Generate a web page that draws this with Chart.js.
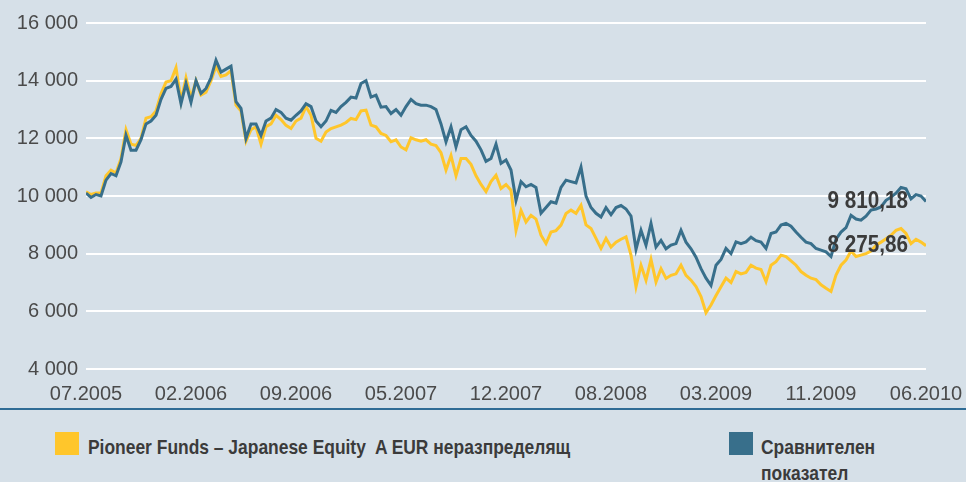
<!DOCTYPE html>
<html>
<head>
<meta charset="utf-8">
<script src="https://cdn.jsdelivr.net/npm/chart.js@4.4.0/dist/chart.umd.min.js"></script>
<style>
    body { margin: 0; background: #d6e0e8; width: 966px; height: 482px; overflow: hidden; position: relative; font-family: "Liberation Sans", Arial, sans-serif; }
    #chartWrap { position: absolute; left: 0; top: 0; width: 966px; height: 408px; }
    .axis-line { position: absolute; left: 0; top: 408px; width: 966px; height: 2px; background: #2f6c95; }
    .legend-box { position: absolute; width: 24px; height: 23px; top: 432px; }
    .legend-text { position: absolute; font-family: "Liberation Sans", Arial, sans-serif; font-weight: bold; font-size: 21px; color: #3b3b3b; line-height: 26px; white-space: nowrap; transform-origin: 0 0; }
</style>
</head>
<body>
<div id="chartWrap"><canvas id="perfChart" width="966" height="408"></canvas></div>
<div class="axis-line"></div>
<div class="legend-box" style="left:55px; background:#ffc62b;"></div>
<div class="legend-text" id="legendFund" style="left:88px; top:434px;"></div>
<div class="legend-box" style="left:729px; background:#386f8b;"></div>
<div class="legend-text" id="legendBench" style="left:761px; top:434px;"></div>

<script>
// Tick labels on the time axis (evenly spaced)
const tickLabels = ['07.2005', '02.2006', '09.2006', '05.2007', '12.2007', '08.2008', '03.2009', '11.2009', '06.2010'];

// Fund values
const fundValues = [
    10150, 10050, 10100, 10100, 10700, 10900, 10800, 11300, 12300, 11800,
    11750, 12000, 12700, 12750, 12950, 13550, 13950, 14000, 14450, 13300,
    14100, 13400, 14000, 13500, 13600, 14000, 14500, 14150, 14200, 14350,
    13150, 12950, 11900, 12300, 12400, 11800, 12400, 12500, 12800, 12650,
    12450, 12340, 12600, 12700, 13100, 12800, 12000, 11900, 12220, 12340,
    12400, 12460, 12550, 12690, 12650, 12950, 12980, 12460, 12400, 12170,
    12100, 11880, 11950, 11700, 11600, 12020, 11950, 11900, 11950, 11800,
    11750, 11500, 10900, 11400, 10700, 11300, 11300, 11100, 10700, 10400,
    10150, 10500, 10720, 10260, 10400, 10200, 8810, 9500, 9100, 9330,
    9200, 8640, 8350, 8750, 8800, 8990, 9390, 9510, 9400, 9680,
    9000, 8870, 8530, 8180, 8530, 8230, 8400, 8500, 8580, 7950,
    6850, 7600, 7080, 7800, 7020, 7480, 7140, 7250, 7300, 7600,
    7250, 7080, 6860, 6510, 5950, 6220, 6550, 6850, 7150, 7000,
    7380, 7300, 7350, 7600, 7500, 7450, 7030, 7600, 7720, 7950,
    7900, 7750, 7600, 7380, 7250, 7150, 7100, 6920, 6800, 6690,
    7260, 7600, 7780, 8090, 7900, 7950, 8000, 8090, 8290, 8400,
    8520, 8640, 8810, 8870, 8700, 8350, 8500, 8400, 8275.86
];

// Benchmark values
const benchmarkValues = [
    10100, 9950, 10050, 10000, 10550, 10780, 10700, 11180, 12110, 11590,
    11590, 11950, 12500, 12600, 12800, 13350, 13730, 13800, 14050, 13200,
    13900, 13250, 14000, 13560, 13730, 14100, 14710, 14300, 14400, 14500,
    13270, 13040, 12000, 12500, 12500, 12100, 12600, 12700, 13000, 12900,
    12700, 12630, 12800, 12950, 13200, 13100, 12600, 12400, 12600, 12970,
    12900, 13100, 13250, 13430, 13400, 13900, 14000, 13430, 13500, 13080,
    13100, 12860, 13000, 12800, 13100, 13350, 13200, 13150, 13150, 13100,
    13000, 12500, 11880, 12400, 11700, 12300, 12400, 12100, 11900, 11600,
    11200, 11300, 11800, 11130, 11250, 10900, 9850, 10500, 10320, 10400,
    10300, 9400, 9600, 9800, 9750, 10300, 10550, 10500, 10450, 11000,
    10000, 9600, 9400, 9270, 9600, 9350, 9600, 9670, 9550, 9300,
    8150, 8810, 8290, 9050, 8230, 8460, 8170, 8300, 8350, 8810,
    8400, 8170, 7880, 7480, 7150, 6900, 7600, 7800, 8180, 8000,
    8410, 8350, 8410, 8570, 8450, 8400, 8180, 8700, 8750, 8990,
    9050, 8950, 8750, 8570, 8400, 8350, 8180, 8120, 8060, 7900,
    8500, 8750, 8900, 9330, 9200, 9160, 9300, 9510, 9550, 9620,
    9850, 9960, 10100, 10300, 10250, 9900, 10050, 10000, 9810.18
];

const seriesNames = ['Pioneer Funds – Japanese Equity\u00a0 A EUR неразпределящ', 'Сравнителен показател'];

const lastIndex = fundValues.length - 1;
const tickStep = lastIndex / (tickLabels.length - 1);

function formatThousands(value) {
    return String(value).replace(/\B(?=(\d{3})+(?!\d))/g, ' ');
}

function formatEnd(value) {
    const parts = value.toFixed(2).split('.');
    return formatThousands(parts[0]) + ',' + parts[1];
}

// Draws the final values next to the end of the lines
const endLabels = {
    id: 'endLabels',
    afterDatasetsDraw(chart) {
        const ctx = chart.ctx;
        const x = chart.scales.x.getPixelForValue(lastIndex) - 18;
        ctx.save();
        ctx.font = 'bold 23px "Liberation Sans", sans-serif';
        ctx.fillStyle = '#3b3b3b';
        ctx.textAlign = 'right';
        ctx.textBaseline = 'middle';
        chart.data.datasets.forEach(ds => {
            const v = ds.data[lastIndex].y;
            const y = chart.scales.y.getPixelForValue(v);
            // squeeze horizontally to mimic the condensed face
            ctx.save();
            ctx.translate(x, y);
            ctx.scale(0.9, 1);
            ctx.fillText(formatEnd(v), 0, 0);
            ctx.restore();
        });
        ctx.restore();
    }
};

// Legend under the chart, condensed to the width in the picture
function buildLegend() {
    const fund = document.getElementById('legendFund');
    const bench = document.getElementById('legendBench');
    fund.textContent = seriesNames[0];
    const words = seriesNames[1].split(' ');
    bench.innerHTML = words.join('<br>');
    const squeeze = 482 / fund.offsetWidth;
    fund.style.transform = 'scaleX(' + squeeze + ')';
    bench.style.transform = 'scaleX(' + squeeze + ')';
}

document.addEventListener('DOMContentLoaded', function() {
    buildLegend();

    const ctx = document.getElementById('perfChart');

    const config = {
        type: 'line',
        data: {
            datasets: [{
                label: seriesNames[1],
                data: benchmarkValues.map((v, i) => ({ x: i, y: v })),
                borderColor: '#386f8b',
                borderWidth: 3,
                pointRadius: 0,
                tension: 0,
                order: 1
            }, {
                label: seriesNames[0],
                data: fundValues.map((v, i) => ({ x: i, y: v })),
                borderColor: '#ffc62b',
                borderWidth: 3,
                pointRadius: 0,
                tension: 0,
                order: 2
            }]
        },
        options: {
            responsive: false,
            animation: false,
            layout: {
                padding: { top: 23, right: 40, bottom: 0, left: 0 }
            },
            plugins: {
                legend: { display: false },
                tooltip: { enabled: false }
            },
            scales: {
                x: {
                    type: 'linear',
                    min: 0,
                    max: lastIndex,
                    grid: { display: false, drawTicks: false },
                    border: { display: false },
                    afterBuildTicks: function(axis) {
                        axis.ticks = tickLabels.map((t, i) => ({ value: i * tickStep }));
                    },
                    afterFit: function(scale) {
                        scale.height = 39;
                        // let the last label hang into the right margin
                        scale.paddingLeft = 0;
                        scale.paddingRight = 0;
                    },
                    ticks: {
                        autoSkip: false,
                        maxRotation: 0,
                        padding: 13,
                        color: '#4a4a4a',
                        font: { family: '"Liberation Sans", Arial, sans-serif', size: 20 },
                        callback: function(value, index) {
                            return tickLabels[index];
                        }
                    }
                },
                y: {
                    min: 4000,
                    max: 16000,
                    afterFit: function(scale) {
                        scale.width = 86;
                    },
                    grid: {
                        color: '#ffffff',
                        lineWidth: 2,
                        drawTicks: false
                    },
                    border: { display: false },
                    ticks: {
                        stepSize: 2000,
                        padding: 8,
                        color: '#4a4a4a',
                        font: { family: '"Liberation Sans", Arial, sans-serif', size: 20 },
                        callback: function(value) {
                            return formatThousands(value);
                        }
                    }
                }
            }
        },
        plugins: [endLabels]
    };

    new Chart(ctx, config);
});
</script>
</body>
</html>
